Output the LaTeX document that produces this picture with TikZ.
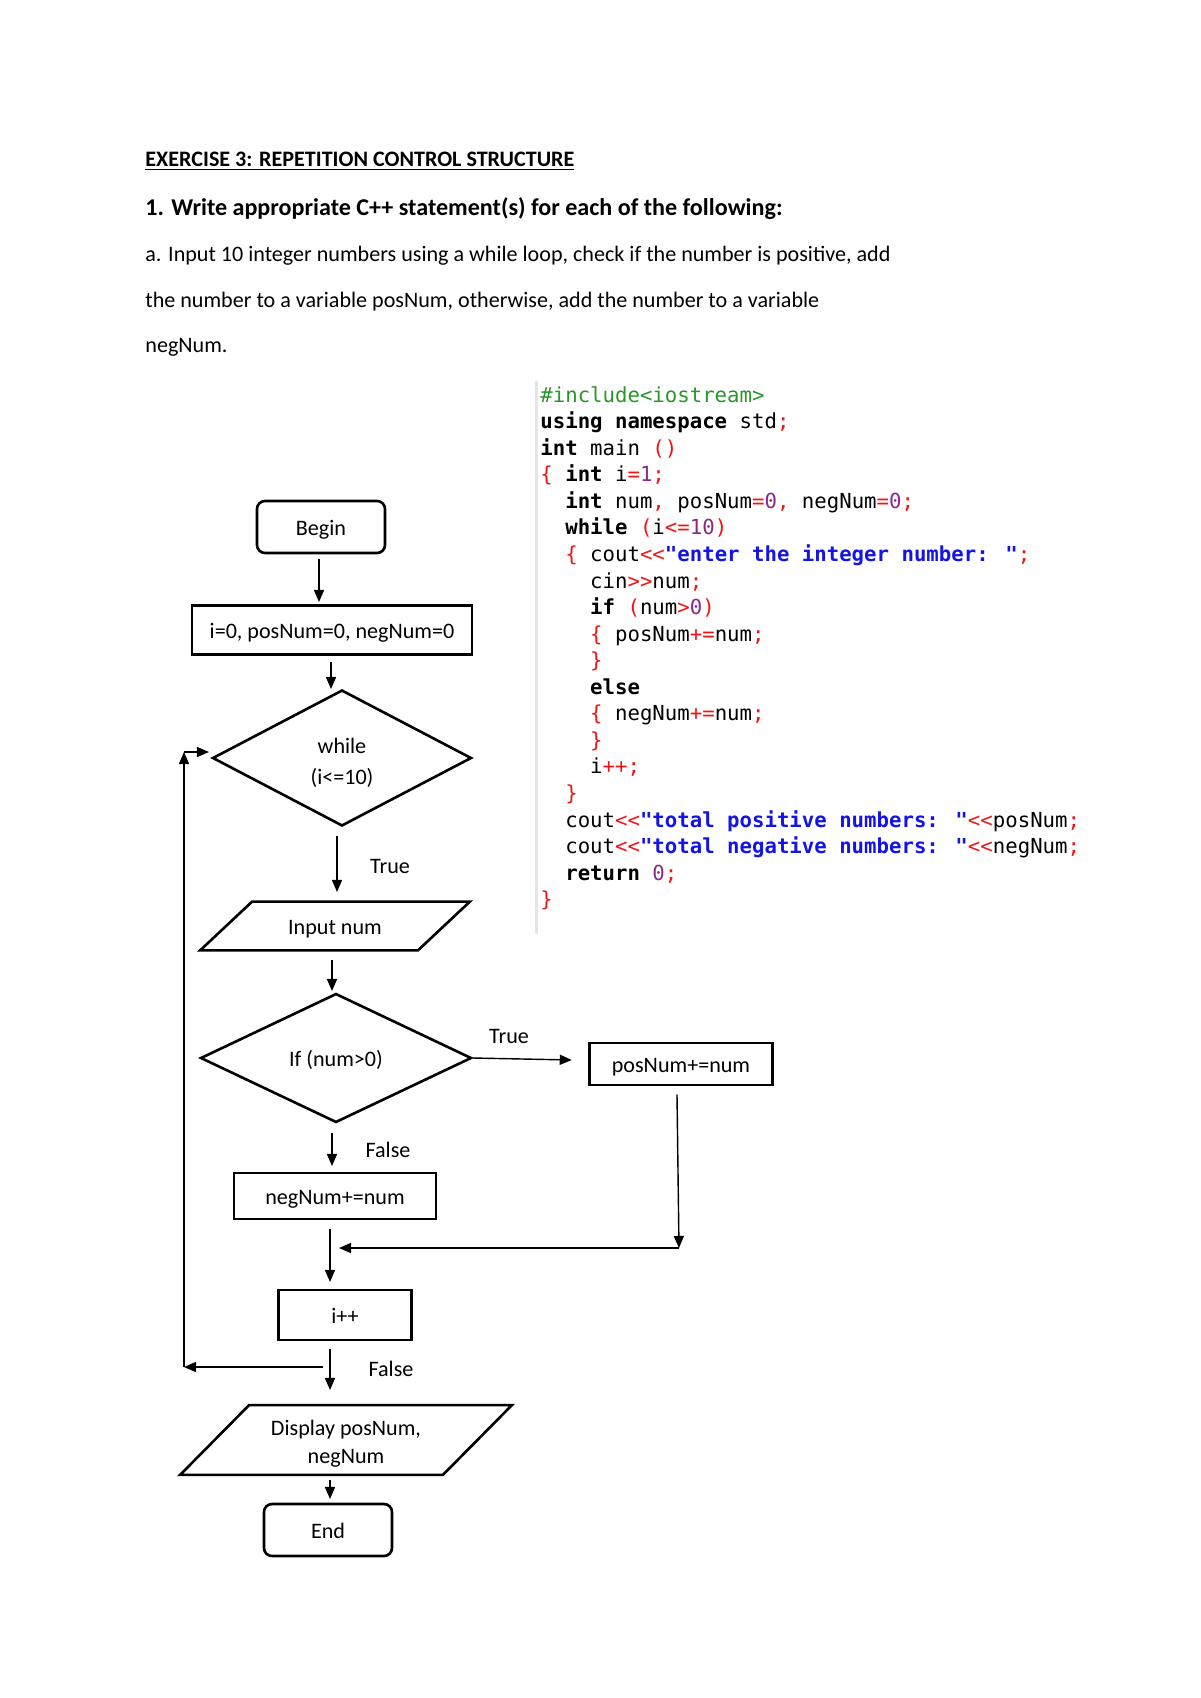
\documentclass[tikz,border=0pt]{standalone}
\usepackage{fontspec}
\setmainfont{Carlito}
\newfontfamily\codefont{DejaVu Sans Mono}
\usepackage{xcolor}
\usetikzlibrary{arrows.meta,positioning,shapes.geometric}
\definecolor{incgreen}{RGB}{40,150,40}
\definecolor{opred}{RGB}{240,20,20}
\definecolor{strblue}{RGB}{20,20,230}
\definecolor{numpurple}{RGB}{140,40,140}
\newlength\px
\setlength\px{0.175mm}
\newcommand\kw[1]{\textbf{#1}}
\newcommand\op[1]{\textcolor{opred}{#1}}
\newcommand\str[1]{\textcolor{strblue}{\textbf{#1}}}
\newcommand\nm[1]{\textcolor{numpurple}{#1}}
\newcommand\ind{\hphantom{xx}}
\tikzset{
  startstop/.style={draw,rounded corners=8\px,line width=1.3pt,minimum width=128\px,minimum height=52\px,text height=8.5pt,text depth=0pt,font=\fontsize{11}{13}\selectfont},
  procbox/.style={draw,line width=1.3pt,text height=8.5pt,text depth=0pt,font=\fontsize{11}{13}\selectfont},
  decision/.style={diamond,draw,line width=1.3pt,inner sep=0pt,align=center,font=\fontsize{11}{15}\selectfont},
  iobox/.style={inner sep=0pt,align=center,font=\fontsize{11}{14}\selectfont},
  flow/.style={-{Triangle[length=6pt,width=5pt]},line width=0.7pt},
  lbl/.style={font=\fontsize{11}{13}\selectfont},
  para/.style={anchor=west,inner sep=0pt,font=\fontsize{11}{13}\selectfont}
}

\begin{document}
\begin{tikzpicture}[x=0.175mm,y=-0.175mm]
  \useasboundingbox[fill=white] (0,0) rectangle (1200,1698);

  % exercise text
  \node[para,font=\fontsize{11}{13}\selectfont\bfseries] (title) at (145,161) {\underline{EXERCISE 3: REPETITION CONTROL STRUCTURE}};
  \node[para,font=\fontsize{12}{14}\selectfont\bfseries] (heading) at (145,209) {1. Write appropriate C++ statement(s) for each of the following:};
  \node[para] (linea) at (145,256) {a. Input 10 integer numbers using a while loop, check if the number is positive, add};
  \node[para] (lineb) at (145,302) {the number to a variable posNum, otherwise, add the number to a variable};
  \node[para] (linec) at (145,347) {negNum.};

  % program listing
  \draw[black!10,line width=3\px] (536,381) -- (536,934);
  \node[anchor=north west,inner sep=0pt,align=left,font={\codefont\fontsize{10.3}{13.22}\selectfont}] (code) at (540,386) {%
\textcolor{incgreen}{\#include<iostream>}\\
\kw{using namespace} std\op{;}\\
\kw{int} main \op{()}\\
\op{\{} \kw{int} i\op{=}\nm{1}\op{;}\\
\ind\kw{int} num\op{,} posNum\op{=}\nm{0}\op{,} negNum\op{=}\nm{0}\op{;}\\
\ind\kw{while} \op{(}i\op{<=}\nm{10}\op{)}\\
\ind\op{\{} cout\op{<<}\str{"enter the integer number: "}\op{;}\\
\ind\ind cin\op{>>}num\op{;}\\
\ind\ind\kw{if} \op{(}num\op{>}\nm{0}\op{)}\\
\ind\ind\op{\{} posNum\op{+=}num\op{;}\\
\ind\ind\op{\}}\\
\ind\ind\kw{else}\\
\ind\ind\op{\{} negNum\op{+=}num\op{;}\\
\ind\ind\op{\}}\\
\ind\ind i\op{++;}\\
\ind\op{\}}\\
\ind cout\op{<<}\str{"total positive numbers: "}\op{<<}posNum\op{;}\\
\ind cout\op{<<}\str{"total negative numbers: "}\op{<<}negNum\op{;}\\
\ind\kw{return} \nm{0}\op{;}\\
\op{\}}};

  % flowchart
  \node[startstop] (begin) at (321,527) {Begin};
  \node[procbox,minimum width=280\px,minimum height=49\px] (init) at (332,630) {i=0, posNum=0, negNum=0};
  \node[decision,minimum width=259\px,minimum height=136\px] (while) at (342,758) {\rule{0pt}{12.5pt}while\\(i<=10)};
  \node[iobox,minimum width=269\px,minimum height=48\px,text height=8.5pt,text depth=0pt] (input) at (335,926) {Input num};
  \draw[line width=1.3pt] ([xshift=52\px]input.north west) -- (input.north east)
    -- ([xshift=-52\px]input.south east) -- (input.south west) -- cycle;
  \node[decision,minimum width=271\px,minimum height=129\px,text height=8.5pt,text depth=0pt] (ifpos) at (336,1058) {If (num>0)};
  \node[procbox,minimum width=183\px,minimum height=42\px] (pos) at (681,1064) {posNum+=num};
  \node[procbox,minimum width=202\px,minimum height=46\px] (neg) at (335,1196) {negNum+=num};
  \node[procbox,minimum width=133\px,minimum height=50\px] (inc) at (345,1315) {i++};
  \node[iobox,minimum width=331\px,minimum height=69\px] (disp) at (346,1440) {\rule{0pt}{11.5pt}Display posNum,\\negNum};
  \draw[line width=1.3pt] ([xshift=69\px]disp.north west) -- (disp.north east)
    -- ([xshift=-69\px]disp.south east) -- (disp.south west) -- cycle;
  \node[startstop] (stop) at (328,1530) {End};

  % joins
  \coordinate (posdown) at (679,1248);
  \coordinate (merge) at (339,1248);
  \coordinate (backA) at (323,1367);
  \coordinate (backB) at (184,1367);
  \coordinate (backC) at (184,752);

  \draw[flow,shorten <=6\px] (319,553) -- (319,602);
  \draw[flow] (331,662) -- (331,689);
  \draw[flow] (337,836) -- (337,892);
  \draw[flow] (332,960) -- (332,991);
  \draw[flow] (ifpos.east) -- ++(99,2);
  \draw[flow] (332,1133) -- (332,1166);
  \draw[flow] (pos.south) ++(-4,8) -- (posdown);
  \draw[flow] (posdown) -- (merge);
  \draw[flow] (330,1229) -- (330,1282);
  \draw[flow] (330,1349) -- (330,1390);
  \draw[flow] (backA) -- (backB);
  \draw[flow] (backB) -- (backC);
  \draw[flow] (backC) -- (209,752);
  \draw[flow] (330,1480) -- (330,1499);

  % branch labels
  \node[lbl] (ltrue) at (390,866) {True};
  \node[lbl] (ltrue2) at (509,1036) {True};
  \node[lbl] (lfalse) at (388,1150) {False};
  \node[lbl] (lfalse2) at (391,1369) {False};
\end{tikzpicture}
\end{document}
